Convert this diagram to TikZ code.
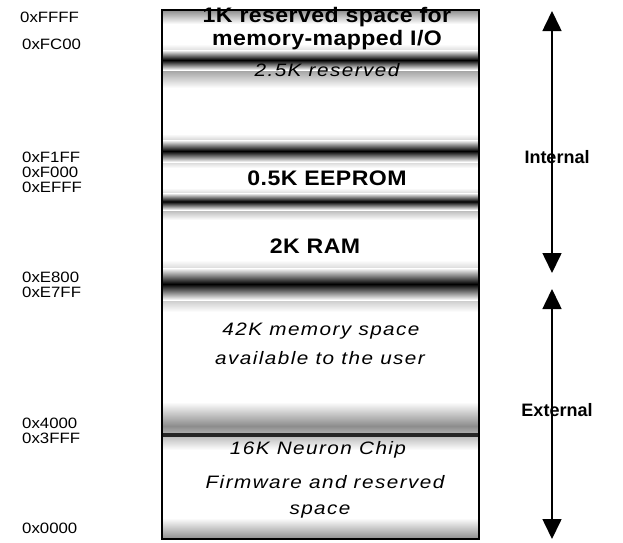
\documentclass[tikz,border=0pt]{standalone}
\usepackage{fontspec}
\setmainfont{Liberation Sans}
\usetikzlibrary{arrows.meta}
\newfontfamily\addrfont[FakeStretch=1.12]{Liberation Sans}
\newfontfamily\wideb[FakeStretch=1.1,LetterSpace=2]{Liberation Sans}
\newfontfamily\widei[FakeStretch=1.15,LetterSpace=8]{Liberation Sans}
\begin{document}
\begin{tikzpicture}[x=1pt,y=-1pt,
  addr/.style={anchor=west,inner sep=0pt,font=\fontsize{15}{15}\selectfont\addrfont},
  boldtxt/.style={inner sep=0pt,font=\fontsize{21}{21}\selectfont\wideb\bfseries},
  itxt/.style={inner sep=0pt,font=\fontsize{18}{18}\selectfont\widei\itshape},
  sidetxt/.style={inner sep=0pt,font=\fontsize{18}{18}\selectfont\bfseries},
  arr/.style={line width=1.6pt,-{Triangle[width=19pt,length=20pt]}},
  band/.style={top color=white,bottom color=white,middle color=black},
  lband/.style={top color=white,bottom color=white,middle color=black!45}]
\useasboundingbox (0,0) rectangle (623,542);
% bands
\shade[lband] (162,44) rectangle (479,88);
\shade[band] (162,50) rectangle (479,70);
\shade[lband] (162,134) rectangle (479,168);
\shade[band] (162,140) rectangle (479,162);
\shade[lband] (162,188) rectangle (479,220);
\shade[band] (162,193) rectangle (479,210);
\shade[lband] (162,260) rectangle (479,312);
\shade[band] (162,268) rectangle (479,300);
\shade[lband] (162,402) rectangle (479,450);
\fill[black!85] (162,433) rectangle (479,437);
\shade[top color=white,bottom color=black!45] (162,518) rectangle (479,539);
\shade[top color=black!45,bottom color=white] (162,10) rectangle (479,24);
% box
\node[draw,line width=1.6pt,minimum width=317pt,minimum height=529pt,inner sep=0pt] (box) at (320.5,274.5) {};
% box texts
\node[boldtxt] (t1) at (327,17) {1K reserved space for};
\node[boldtxt] (t2) at (327,40) {memory-mapped I/O};
\node[itxt] (t3) at (327,70) {2.5K reserved};
\node[boldtxt] (t4) at (327,178) {0.5K EEPROM};
\node[boldtxt] (t5) at (315,246) {2K RAM};
\node[itxt] (t6) at (321,331) {42K memory space};
\node[itxt] (t7) at (320,358) {available to the user};
\node[itxt] (t8) at (318,450) {16K Neuron Chip};
\node[itxt] (t9) at (325,482) {Firmware and reserved};
\node[itxt] (t10) at (320,512) {space};
% addresses
\node[addr] (a1) at (20,17) {0xFFFF};
\node[addr] (a2) at (22,44) {0xFC00};
\node[addr] (a3) at (22,157) {0xF1FF};
\node[addr] (a4) at (22,172) {0xF000};
\node[addr] (a5) at (22,187) {0xEFFF};
\node[addr] (a6) at (22,277) {0xE800};
\node[addr] (a7) at (22,292) {0xE7FF};
\node[addr] (a8) at (22,423) {0x4000};
\node[addr] (a9) at (22,438) {0x3FFF};
\node[addr] (a10) at (22,528) {0x0000};
% side
\node[sidetxt] (int) at (557,157) {Internal};
\node[sidetxt] (ext) at (557,410) {External};
\coordinate (intTop) at (552,11);
\coordinate (intBot) at (552,273);
\coordinate (extTop) at (552,289);
\coordinate (extBot) at (552,539);
\draw[arr] ([yshift=-14pt]int.north -| intTop) -- (intTop);
\draw[arr] ([yshift=14pt]int.south -| intBot) -- (intBot);
\draw[arr] ([yshift=-14pt]ext.north -| extTop) -- (extTop);
\draw[arr] ([yshift=14pt]ext.south -| extBot) -- (extBot);
\end{tikzpicture}
\end{document}
